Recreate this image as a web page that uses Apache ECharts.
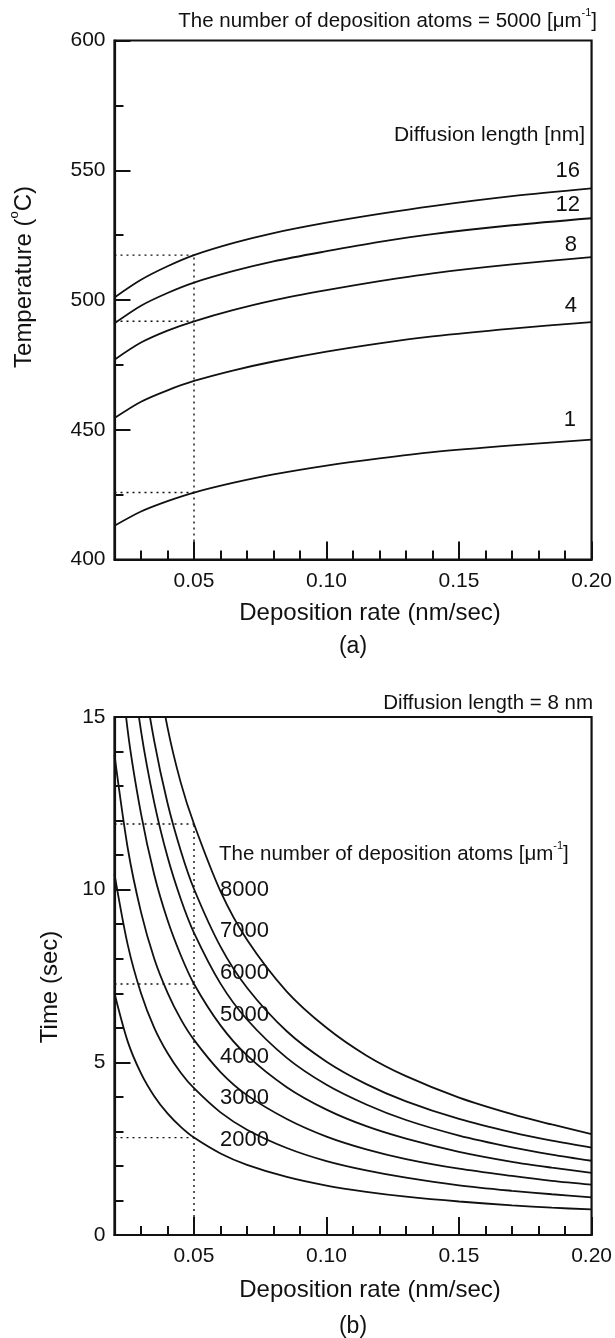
<!DOCTYPE html>
<html>
<head>
<meta charset="utf-8">
<script src="https://cdn.jsdelivr.net/npm/echarts@6/dist/echarts.min.js"></script>
<style>
  html, body { margin: 0; padding: 0; background: #fff; }
  #chart { width: 615px; height: 1338px; }
</style>
</head>
<body>
<div id="chart"></div>
<script>
// ---------- data: panel (a) temperature vs deposition rate ----------
const rateA = [0.02, 0.03, 0.04, 0.05, 0.065, 0.08, 0.10, 0.12, 0.14, 0.17, 0.20];
const tempL16 = [501, 507.8, 513, 517.3, 522, 525.8, 529.8, 533.2, 536.2, 540, 543];
const tempL12 = [491, 497.8, 502.7, 506.7, 511.2, 514.9, 518.8, 522.4, 525.4, 528.8, 531.5];
const tempL8  = [477, 483.6, 488.2, 491.8, 496.2, 499.9, 503.8, 507.3, 510.3, 513.7, 516.5];
const tempL4  = [454.5, 460.8, 465.2, 468.8, 472.9, 476.3, 480.1, 483.3, 486.0, 489.0, 491.5];
const tempL1  = [413, 418.5, 422.5, 425.8, 429.6, 432.8, 436.2, 439.0, 441.4, 444.0, 446.2];
const diffLengthLabels = ['16', '12', '8', '4', '1'];
const guideRate = 0.05;
const guideTempA = [517.3, 491.8, 425.8];

// ---------- data: panel (b) time vs deposition rate ----------
const rateB = [0.02, 0.025, 0.03, 0.035, 0.04, 0.045, 0.05, 0.06, 0.07, 0.085, 0.10, 0.115, 0.13, 0.15, 0.17, 0.185, 0.20];
const timeN8000 = [30, 24, 19.9, 16.9, 14.7, 13.1, 11.9, 9.95, 8.55, 7.05, 6.0, 5.2, 4.6, 3.98, 3.5, 3.2, 2.92];
const timeN7000 = [25, 20, 16.67, 14.3, 12.51, 11.13, 10.02, 8.35, 7.16, 5.9, 5.02, 4.37, 3.87, 3.36, 2.97, 2.73, 2.53];
const timeN6000 = [22, 17.55, 14.6, 12.52, 10.95, 9.73, 8.75, 7.28, 6.24, 5.13, 4.35, 3.78, 3.33, 2.88, 2.54, 2.33, 2.15];
const timeN5000 = [18.3, 14.6, 12.2, 10.43, 9.12, 8.1, 7.27, 6.07, 5.2, 4.28, 3.63, 3.15, 2.79, 2.41, 2.12, 1.95, 1.80];
const timeN4000 = [13.9, 11.2, 9.35, 8.0, 7.02, 6.25, 5.65, 4.72, 4.05, 3.36, 2.85, 2.48, 2.2, 1.92, 1.71, 1.57, 1.46];
const timeN3000 = [10.45, 8.4, 7.0, 6.0, 5.27, 4.7, 4.25, 3.55, 3.05, 2.52, 2.14, 1.87, 1.66, 1.44, 1.28, 1.18, 1.09];
const timeN2000 = [7.0, 5.6, 4.68, 4.02, 3.52, 3.13, 2.82, 2.36, 2.03, 1.68, 1.43, 1.25, 1.11, 0.97, 0.86, 0.79, 0.74];
const atomLabels = ['8000', '7000', '6000', '5000', '4000', '3000', '2000'];
const guideTimeB = [11.9, 7.27, 2.82];

// ---------- tick labels ----------
const rateMajorTicks = [0.05, 0.10, 0.15, 0.20];
const rateMinorTicks = [0.03, 0.04, 0.06, 0.07, 0.08, 0.09, 0.11, 0.12, 0.13, 0.14, 0.16, 0.17, 0.18, 0.19];

const FONT = '"Liberation Sans", Arial, Helvetica, sans-serif';
const INK = '#111';

function zip(xs, ys) { return xs.map((x, i) => [x, ys[i]]); }

function curve(xIdx, yIdx, xs, ys) {
  return {
    type: 'line', xAxisIndex: xIdx, yAxisIndex: yIdx,
    data: zip(xs, ys), showSymbol: false, smooth: 0.3,
    clip: true, silent: true,
    lineStyle: { color: INK, width: 1.8 }
  };
}
function guide(xIdx, yIdx, pts) {
  return {
    type: 'line', xAxisIndex: xIdx, yAxisIndex: yIdx, data: pts,
    showSymbol: false, silent: true, clip: true,
    lineStyle: { color: INK, width: 1.4, type: [2, 4] }
  };
}

function majorX(grid) {
  return {
    type: 'value', gridIndex: grid, min: 0.02, max: 0.20, position: 'bottom',
    axisLine: { show: true, lineStyle: { color: INK, width: 2.2 } },
    axisTick: { show: true, inside: true, length: 18, customValues: rateMajorTicks, lineStyle: { color: INK, width: 2 } },
    axisLabel: { show: true, customValues: rateMajorTicks, margin: 11, color: INK, fontSize: 21, fontFamily: FONT,
      formatter: v => v.toFixed(2) },
    splitLine: { show: false }
  };
}
function minorX(grid) {
  return {
    type: 'value', gridIndex: grid, min: 0.02, max: 0.20, position: 'bottom',
    axisLine: { show: false },
    axisTick: { show: true, inside: true, length: 9, customValues: rateMinorTicks, lineStyle: { color: INK, width: 2 } },
    axisLabel: { show: false },
    splitLine: { show: false }
  };
}
function yAx(grid, min, max, interval, minorSplit) {
  return {
    type: 'value', gridIndex: grid, min: min, max: max, interval: interval,
    axisLine: { show: true, lineStyle: { color: INK, width: 2.2 } },
    axisTick: { show: true, inside: true, length: 16, lineStyle: { color: INK, width: 2 } },
    minorTick: { show: true, splitNumber: minorSplit, length: 9, lineStyle: { color: INK, width: 2 } },
    axisLabel: { show: true, margin: 9, color: INK, fontSize: 21, fontFamily: FONT },
    splitLine: { show: false }, minorSplitLine: { show: false }
  };
}

function txt(x, y, text, size, align) {
  return {
    type: 'text', x: x, y: y, silent: true,
    style: {
      text: text, font: size + 'px ' + FONT, fill: INK,
      align: align || 'left', verticalAlign: 'middle',
      rich: {
        base: { fontSize: size, fontFamily: FONT, fill: INK, lineHeight: size + 4, verticalAlign: 'bottom' },
        sup: { fontSize: Math.round(size * 0.55), fontFamily: FONT, fill: INK, lineHeight: size + 4, verticalAlign: 'top' }
      }
    }
  };
}

const seriesA = [tempL16, tempL12, tempL8, tempL4, tempL1].map(v => curve(0, 0, rateA, v));
const guidesA = [guide(0, 0, [[guideRate, 400], [guideRate, guideTempA[0]]])]
  .concat(guideTempA.map(t => guide(0, 0, [[0.02, t], [guideRate, t]])));
const seriesB = [timeN8000, timeN7000, timeN6000, timeN5000, timeN4000, timeN3000, timeN2000].map(v => curve(2, 1, rateB, v));
const guidesB = [guide(2, 1, [[guideRate, 0], [guideRate, guideTimeB[0]]])]
  .concat(guideTimeB.map(t => guide(2, 1, [[0.02, t], [guideRate, t]])));

// label anchor positions (layout only)
const labelPosA = [[580, 171], [580, 205], [577, 245], [577, 306], [576, 420]];
const labelPosB = [[220, 890], [220, 931], [220, 973], [220, 1015], [220, 1057], [220, 1098], [220, 1140]];

const graphics = [
  txt(597, 20, '{base|The number of deposition atoms = 5000 [\u03bcm}{sup|-1}{base|]}', 20.5, 'right'),
  txt(585, 135, 'Diffusion length [nm]', 21, 'right'),
  txt(22, 277, '{base|Temperature (}{sup|o}{base|C)}', 24, 'center'),
  txt(370, 613, 'Deposition rate (nm/sec)', 24, 'center'),
  txt(353, 647, '(a)', 23, 'center'),
  txt(593, 703, 'Diffusion length = 8 nm', 20.5, 'right'),
  txt(219, 853, '{base|The number of deposition atoms [\u03bcm}{sup|-1}{base|]}', 20.5, 'left'),
  txt(50, 987, 'Time (sec)', 24, 'center'),
  txt(370, 1290, 'Deposition rate (nm/sec)', 24, 'center'),
  txt(353, 1327, '(b)', 23, 'center')
];
graphics[2].rotation = Math.PI / 2;
graphics[7].rotation = Math.PI / 2;
diffLengthLabels.forEach((l, i) => graphics.push(txt(labelPosA[i][0], labelPosA[i][1], l, 22, 'right')));
atomLabels.forEach((l, i) => graphics.push(txt(labelPosB[i][0], labelPosB[i][1], l, 22, 'left')));

const chart = echarts.init(document.getElementById('chart'), null, { renderer: 'canvas' });
chart.setOption({
  animation: false,
  backgroundColor: '#fff',
  textStyle: { fontFamily: FONT },
  grid: [
    { left: 114.5, top: 40.5, width: 483, height: 519, show: true, borderColor: INK, borderWidth: 2.2, backgroundColor: 'transparent', containLabel: false },
    { left: 114.5, top: 717, width: 483, height: 518, show: true, borderColor: INK, borderWidth: 2.2, backgroundColor: 'transparent', containLabel: false }
  ],
  xAxis: [majorX(0), minorX(0), majorX(1), minorX(1)],
  yAxis: [yAx(0, 400, 600, 50, 2), yAx(1, 0, 15, 5, 5)],
  series: seriesA.concat(guidesA, seriesB, guidesB),
  graphic: graphics
});
</script>
</body>
</html>
